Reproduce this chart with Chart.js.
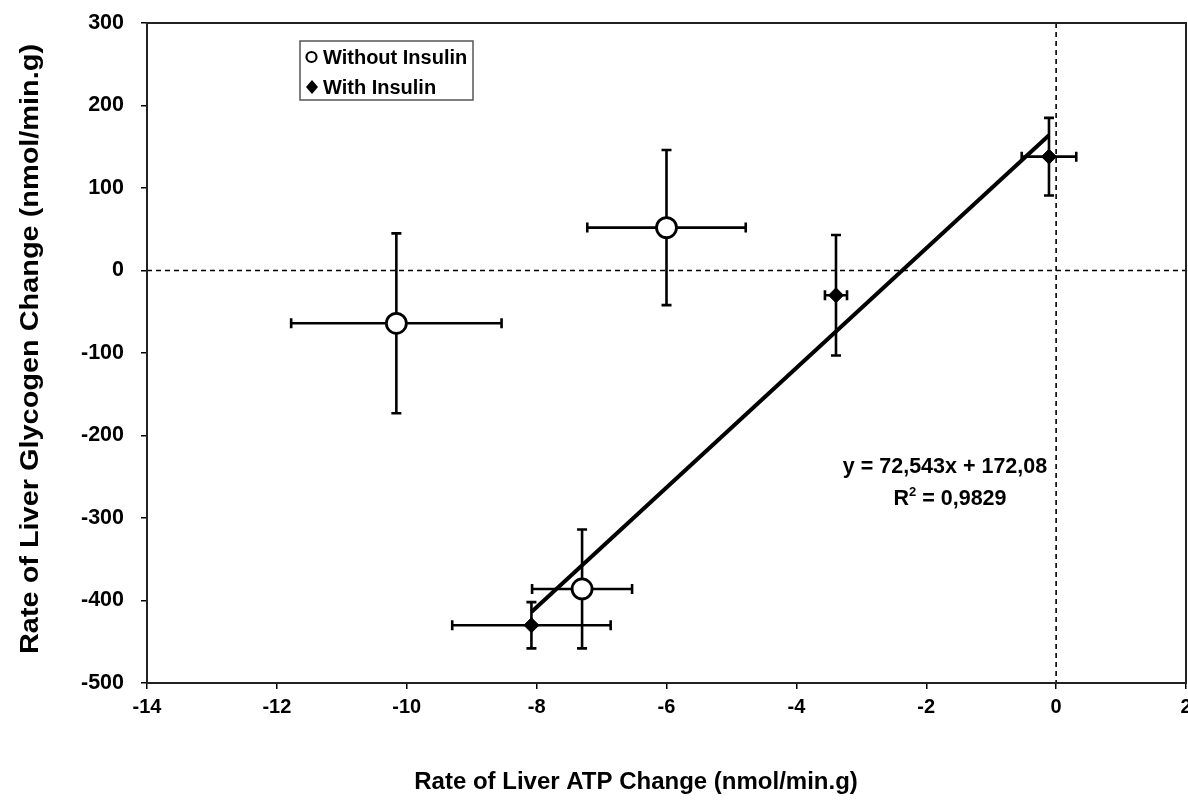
<!DOCTYPE html>
<html>
<head>
<meta charset="utf-8">
<script src="https://cdn.jsdelivr.net/npm/chart.js@4.4.0/dist/chart.umd.min.js"></script>
<style>
  html, body { margin: 0; padding: 0; background: #fff; overflow: hidden; }
  #wrap { width: 1200px; height: 801px; }
</style>
</head>
<body>
<div id="wrap"><canvas id="my"></canvas></div>
<script>
// values
const withoutX = [-10.16, -6.0, -7.3];
const withoutY = [-64, 52, -386];
const withoutXErr = [1.62, 1.22, 0.77];
const withoutYErr = [109, 94, 72];

const withX = [-8.08, -3.39, -0.11];
const withY = [-430, -30, 138];
const withXErr = [1.22, 0.17, 0.42];
const withYErr = [28, 73, 47];

const trendX = [-8.08, -0.11];
const trendY = [-414, 164];

const xTicks = [-14, -12, -10, -8, -6, -4, -2, 0, 2];
const yTicks = [-500, -400, -300, -200, -100, 0, 100, 200, 300];

const seriesNames = ['Without Insulin', 'With Insulin'];
const equationText = 'y = 72,543x + 172,08';
const r2Value = '0,9829';
const xTitle = 'Rate of Liver ATP Change (nmol/min.g)';
const yTitle = 'Rate of Liver Glycogen Change (nmol/min.g)';

const FONT = "'Liberation Sans', Arial, sans-serif";

function toPoints(xs, ys) {
    return xs.map((x, i) => ({ x: x, y: ys[i] }));
}

// error bars, dashed zero lines, frame, legend, equation and titles
const extras = {
    id: 'extras',
    beforeDatasetsDraw(chart) {
        const ctx = chart.ctx;
        const xs = chart.scales.x, ys = chart.scales.y;
        const a = chart.chartArea;
        ctx.save();
        // dashed zero lines
        ctx.strokeStyle = '#000';
        ctx.lineWidth = 1.6;
        ctx.setLineDash([5, 4]);
        ctx.beginPath();
        ctx.moveTo(a.left, ys.getPixelForValue(0));
        ctx.lineTo(a.right, ys.getPixelForValue(0));
        ctx.moveTo(xs.getPixelForValue(0), a.top);
        ctx.lineTo(xs.getPixelForValue(0), a.bottom);
        ctx.stroke();
        ctx.setLineDash([]);

        // error bars
        ctx.lineWidth = 2.6;
        const cap = 5;
        const sets = [
            [withoutX, withoutY, withoutXErr, withoutYErr],
            [withX, withY, withXErr, withYErr]
        ];
        sets.forEach(([X, Y, ex, ey]) => {
            X.forEach((xv, i) => {
                const px = xs.getPixelForValue(xv);
                const py = ys.getPixelForValue(Y[i]);
                const x1 = xs.getPixelForValue(xv - ex[i]);
                const x2 = xs.getPixelForValue(xv + ex[i]);
                const y1 = ys.getPixelForValue(Y[i] + ey[i]);
                const y2 = ys.getPixelForValue(Y[i] - ey[i]);
                ctx.beginPath();
                ctx.moveTo(x1, py); ctx.lineTo(x2, py);
                ctx.moveTo(x1, py - cap); ctx.lineTo(x1, py + cap);
                ctx.moveTo(x2, py - cap); ctx.lineTo(x2, py + cap);
                ctx.moveTo(px, y1); ctx.lineTo(px, y2);
                ctx.moveTo(px - cap, y1); ctx.lineTo(px + cap, y1);
                ctx.moveTo(px - cap, y2); ctx.lineTo(px + cap, y2);
                ctx.stroke();
            });
        });
        ctx.restore();
    },
    afterDraw(chart) {
        const ctx = chart.ctx;
        const a = chart.chartArea;
        ctx.save();
        // plot frame
        ctx.strokeStyle = '#222';
        ctx.lineWidth = 2;
        ctx.strokeRect(a.left, a.top, a.right - a.left, a.bottom - a.top);

        // legend box
        ctx.strokeStyle = '#555';
        ctx.lineWidth = 1.5;
        ctx.strokeRect(300, 41, 173, 59);
        ctx.fillStyle = '#000';
        ctx.font = 'bold 20px ' + FONT;
        ctx.textBaseline = 'alphabetic';
        ctx.textAlign = 'left';
        ctx.fillText(seriesNames[0], 323, 64);
        ctx.fillText(seriesNames[1], 323, 94);
        ctx.lineWidth = 2.2;
        ctx.strokeStyle = '#000';
        ctx.fillStyle = '#fff';
        ctx.beginPath();
        ctx.arc(311.5, 57, 5, 0, Math.PI * 2);
        ctx.fill(); ctx.stroke();
        ctx.fillStyle = '#000';
        ctx.beginPath();
        ctx.moveTo(312, 80); ctx.lineTo(318, 87); ctx.lineTo(312, 94); ctx.lineTo(306, 87);
        ctx.closePath(); ctx.fill();

        // trendline equation
        ctx.font = 'bold 21.5px ' + FONT;
        ctx.textAlign = 'center';
        ctx.fillText(equationText, 945, 473);
        const r1 = 'R', r3 = ' = ' + r2Value;
        const w1 = ctx.measureText(r1).width, w3 = ctx.measureText(r3).width;
        ctx.font = 'bold 13px ' + FONT;
        const w2 = ctx.measureText('2').width;
        let sx = 950 - (w1 + w2 + w3) / 2;
        ctx.textAlign = 'left';
        ctx.font = 'bold 21.5px ' + FONT;
        ctx.fillText(r1, sx, 505);
        ctx.font = 'bold 13px ' + FONT;
        ctx.fillText('2', sx + w1, 496);
        ctx.font = 'bold 21.5px ' + FONT;
        ctx.fillText(r3, sx + w1 + w2, 505);

        // axis titles
        ctx.font = 'bold 24px ' + FONT;
        ctx.textAlign = 'center';
        ctx.textBaseline = 'middle';
        ctx.fillText(xTitle, 636, 782);
        ctx.translate(31, 349);
        ctx.rotate(-Math.PI / 2);
        ctx.font = 'bold 25px ' + FONT;
        const tw = ctx.measureText(yTitle).width;
        ctx.scale(610 / tw, 1);
        ctx.fillText(yTitle, 0, 0);
        ctx.restore();
    }
};

new Chart(document.getElementById('my').getContext('2d'), {
    type: 'scatter',
    data: {
        datasets: [
            {
                label: 'Trend',
                data: toPoints(trendX, trendY),
                showLine: true,
                borderColor: '#000',
                borderWidth: 4,
                pointRadius: 0,
                order: 0
            },
            {
                label: seriesNames[0],
                data: toPoints(withoutX, withoutY),
                pointStyle: 'circle',
                pointRadius: 10,
                pointHoverRadius: 10,
                backgroundColor: '#fff',
                borderColor: '#000',
                borderWidth: 2.8,
                order: 1
            },
            {
                label: seriesNames[1],
                data: toPoints(withX, withY),
                pointStyle: 'rectRot',
                pointRadius: 7.5,
                pointHoverRadius: 7.5,
                backgroundColor: '#000',
                borderColor: '#000',
                borderWidth: 1,
                order: 2
            }
        ]
    },
    options: {
        responsive: true,
        maintainAspectRatio: false,
        animation: false,
        layout: { padding: { top: 23, right: 14, bottom: 0, left: 0 } },
        plugins: {
            legend: { display: false },
            tooltip: { enabled: false }
        },
        scales: {
            x: {
                type: 'linear',
                min: -14,
                max: 2,
                afterBuildTicks: (s) => { s.ticks = xTicks.map(v => ({ value: v })); },
                afterFit: (s) => { s.height = 118; s.paddingLeft = 0; s.paddingRight = 0; },
                grid: { drawOnChartArea: false, drawTicks: true, tickLength: 6, color: '#000', lineWidth: 1.5 },
                border: { color: '#222', width: 2 },
                ticks: { color: '#000', padding: 6, maxRotation: 0, font: { family: FONT, size: 20, weight: 'bold' } }
            },
            y: {
                type: 'linear',
                min: -500,
                max: 300,
                afterBuildTicks: (s) => { s.ticks = yTicks.map(v => ({ value: v })); },
                afterFit: (s) => { s.width = 147; s.paddingTop = 0; s.paddingBottom = 0; },
                grid: { drawOnChartArea: false, drawTicks: true, tickLength: 6, color: '#000', lineWidth: 1.5 },
                border: { color: '#222', width: 2 },
                ticks: { color: '#000', padding: 17, font: { family: FONT, size: 21.5, weight: 'bold' } }
            }
        }
    },
    plugins: [extras]
});
</script>
</body>
</html>
